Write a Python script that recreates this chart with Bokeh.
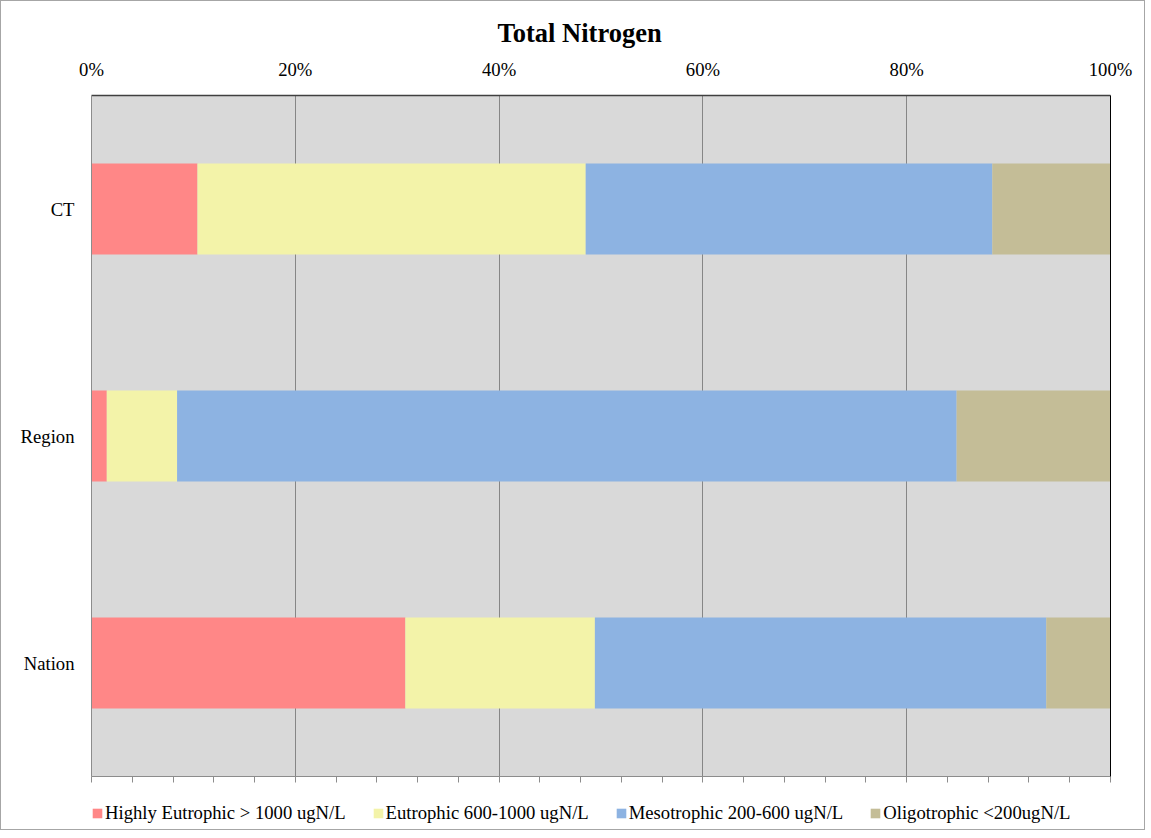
from bokeh.plotting import figure
from bokeh.layouts import column
from bokeh.models import (ColumnDataSource, FactorRange, Range1d, LinearAxis, FixedTicker,
                          NumeralTickFormatter, Legend, LegendItem)
from bokeh.embed import file_html
from bokeh.resources import INLINE

# ---- data (percent of lakes) ----
categories = ["CT", "Region", "Nation"]
highly_eutrophic = [10.4, 1.5, 30.8]
eutrophic = [38.1, 6.9, 18.6]
mesotrophic = [39.9, 76.5, 44.3]
oligotrophic = [11.6, 15.1, 6.3]
series_names = ["Highly Eutrophic > 1000 ugN/L", "Eutrophic 600-1000 ugN/L",
                "Mesotrophic 200-600 ugN/L", "Oligotrophic <200ugN/L"]
series_colors = ["#ff8787", "#f3f3a9", "#8db3e2", "#c4bd97"]
x_ticks = [0, 20, 40, 60, 80, 100]

FONT = "Liberation Serif"

data = {"cat": categories,
        "s0": [v / 100 for v in highly_eutrophic],
        "s1": [v / 100 for v in eutrophic],
        "s2": [v / 100 for v in mesotrophic],
        "s3": [v / 100 for v in oligotrophic]}
source = ColumnDataSource(data)

p = figure(frame_width=1019, frame_height=681, output_backend="svg", toolbar_location=None,
           y_range=FactorRange(factors=list(reversed(categories))),
           x_range=Range1d(0, 1), x_axis_location="above",
           min_border_left=90, min_border_right=34, min_border_top=94, min_border_bottom=25)
p.title.text = "Total Nitrogen"
p.title.align = "left"
p.title.offset = 406
p.title.text_font = FONT
p.title.text_font_size = "26.5px"
p.title.text_font_style = "bold"
p.title.text_color = "black"
p.title.standoff = 15

p.background_fill_color = "#d9d9d9"
p.border_fill_color = "white"
p.outline_line_color = None

renderers = p.hbar_stack(["s0", "s1", "s2", "s3"], y="cat", height=0.4, source=source,
                         color=series_colors, line_color=None)

# top axis
xa = p.xaxis[0]
xa.ticker = FixedTicker(ticks=[t / 100 for t in x_ticks])
xa.formatter = NumeralTickFormatter(format="0%")
xa.major_tick_out = 0
xa.major_tick_in = 0
xa.minor_tick_out = 0
xa.minor_tick_in = 0
xa.axis_line_color = "#404040"
xa.axis_line_width = 1.5
xa.major_label_text_font = FONT
xa.major_label_text_font_size = "14pt"
xa.major_label_text_color = "black"
xa.major_label_standoff = 16

# left axis
ya = p.yaxis[0]
ya.major_tick_out = 0
ya.major_tick_in = 0
ya.axis_line_color = "#8c8c8c"
ya.major_label_text_font = FONT
ya.major_label_text_font_size = "14pt"
ya.major_label_text_color = "black"
ya.major_label_standoff = 17

# bottom axis with tick marks every 4% (labels hidden)
bx = LinearAxis(ticker=FixedTicker(ticks=[i * 0.04 for i in range(26)]))
bx.major_tick_out = 6
bx.major_tick_in = 0
bx.minor_tick_out = 0
bx.minor_tick_in = 0
bx.major_tick_line_color = "#8c8c8c"
bx.axis_line_color = "#8c8c8c"
bx.major_label_text_font_size = "8px"
bx.major_label_text_color = None
bx.major_label_standoff = 0
p.add_layout(bx, "below")

# right border (black)
rx = LinearAxis(ticker=FixedTicker(ticks=[0.5]))
rx.axis_line_color = "black"
rx.major_tick_out = 0
rx.major_tick_in = 0
rx.minor_tick_out = 0
rx.minor_tick_in = 0
rx.major_label_text_color = None
rx.major_label_text_font_size = "1px"
rx.major_label_standoff = 0
p.add_layout(rx, "right")

p.ygrid.grid_line_color = None
p.xgrid.ticker = FixedTicker(ticks=[0.2, 0.4, 0.6, 0.8])
p.xgrid.grid_line_color = "#868686"
p.xgrid.grid_line_width = 1

# legend strip below the chart (its frame aligns with the main frame in the column)
lf = figure(width=1143, height=28, output_backend="svg", toolbar_location=None,
            x_axis_type=None, y_axis_type=None, x_range=Range1d(0, 1), y_range=Range1d(0, 1),
            min_border_left=0, min_border_right=0, min_border_top=0, min_border_bottom=0)
lf.outline_line_color = None
lf.background_fill_color = None
lf.border_fill_color = None
lf.grid.grid_line_color = None
# legend swatches: one hidden bar per series, placed outside the visible range
legend_renderers = [lf.hbar(y=[5], left=[-3], right=[-2], height=0.4, color=c, line_color=None)
                    for c in series_colors]
legend = Legend(items=[LegendItem(label=n, renderers=[r])
                       for n, r in zip(series_names, legend_renderers)],
                orientation="horizontal", location=(0, 5),
                label_text_font=FONT, label_text_font_size="14pt", label_text_color="black",
                glyph_width=12, glyph_height=12, label_standoff=2, spacing=26,
                padding=0, margin=0, border_line_color=None, background_fill_alpha=0)
lf.add_layout(legend, "center")

layout = column(p, lf, spacing=0, styles={"border": "1px solid #a6a6a6"})

open("out.html", "w").write(file_html(layout, INLINE))
